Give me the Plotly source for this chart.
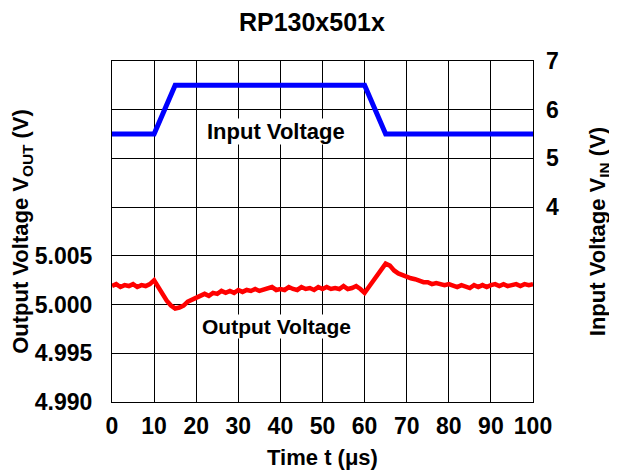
import plotly.graph_objects as go

# ---- data ----
t_out = list(range(0, 101))
v_out = [
    5.0019, 5.0021, 5.0018, 5.0020, 5.0019, 5.0021, 5.0018, 5.0020, 5.0019, 5.0021,
    5.0025, 5.0018, 5.0010, 5.0004, 4.9999, 4.9996, 4.9997, 4.9999, 5.0003, 5.0005,
    5.0008, 5.0009, 5.0011, 5.0009, 5.0012, 5.0011, 5.0014, 5.0012, 5.0014, 5.0012,
    5.0015, 5.0013, 5.0015, 5.0014, 5.0016, 5.0014, 5.0015, 5.0016, 5.0018, 5.0015,
    5.0016, 5.0015, 5.0018, 5.0016, 5.0015, 5.0018, 5.0016, 5.0017, 5.0015, 5.0018,
    5.0016, 5.0018, 5.0016, 5.0017, 5.0016, 5.0019, 5.0016, 5.0017, 5.0019, 5.0016,
    5.0012, 5.0018, 5.0024, 5.0031, 5.0037, 5.0042, 5.0040, 5.0035, 5.0032, 5.0030,
    5.0029, 5.0027, 5.0026, 5.0024, 5.0023, 5.0023, 5.0021, 5.0022, 5.0021, 5.0020,
    5.0021, 5.0019, 5.0018, 5.0020, 5.0019, 5.0017, 5.0020, 5.0018, 5.0020, 5.0018,
    5.0020, 5.0021, 5.0019, 5.0021, 5.0019, 5.0020, 5.0021, 5.0019, 5.0021, 5.0020,
    5.0021,
]
t_in = [0, 10, 15, 60, 65, 100]
v_in = [5.5, 5.5, 6.5, 6.5, 5.5, 5.5]

x_ticks = [0, 10, 20, 30, 40, 50, 60, 70, 80, 90, 100]
y1_ticks = [4.990, 4.995, 5.000, 5.005, 5.010, 5.015, 5.020, 5.025]
y1_labels = ["4.990", "4.995", "5.000", "5.005", "", "", "", ""]
y2_ticks = [4, 5, 6, 7]
y2_labels = ["4", "5", "6", "7"]

FONT = "Liberation Sans, Arial, sans-serif"
BOLD = dict(family=FONT, color="black", size=23, weight="bold")

fig = go.Figure()
fig.add_trace(go.Scatter(x=t_out, y=v_out, mode="lines",
                         line=dict(color="#ff0000", width=4.5), yaxis="y"))
fig.add_trace(go.Scatter(x=t_in, y=v_in, mode="lines",
                         line=dict(color="#0000ff", width=5), yaxis="y2"))

fig.update_layout(
    width=609, height=468,
    margin=dict(l=104, r=84, t=53, b=74, autoexpand=False),
    paper_bgcolor="white", plot_bgcolor="white",
    showlegend=False,
    font=dict(family=FONT, color="black", size=22, weight="bold"),
    title=dict(text="<b>RP130x501x</b>", x=0.499, xanchor="center",
               y=0.970, yanchor="middle", font=dict(size=25)),
    xaxis=dict(range=[0, 100], tickvals=x_ticks, showgrid=True,
               gridcolor="black", gridwidth=1, showline=True, linecolor="black",
               linewidth=1, mirror=True, ticks="", zeroline=False,
               automargin=False, tickfont=BOLD, ticklabelstandoff=3,
               title=dict(text="Time t (μs)", standoff=12,
                          font=dict(size=22, weight="bold"))),
    yaxis=dict(range=[4.990, 5.025], tickvals=y1_ticks, ticktext=y1_labels,
               showgrid=True, gridcolor="black", gridwidth=1, showline=True,
               linecolor="black", linewidth=1, mirror=True, ticks="",
               zeroline=False, automargin=False, tickfont=BOLD,
               ticklabelstandoff=14,
               title=dict(text="Output Voltage V<sub>OUT</sub> (V)", standoff=2,
                          font=dict(size=22, weight="bold"))),
    yaxis2=dict(range=[0, 7], tickvals=y2_ticks, ticktext=y2_labels,
                overlaying="y", side="right", showgrid=False, ticks="",
                zeroline=False, showline=False, automargin=False,
                tickfont=BOLD, ticklabelstandoff=12,
                title=dict(text="Input Voltage V<sub>IN</sub> (V)", standoff=31,
                           font=dict(size=22, weight="bold"))),
    annotations=[
        dict(x=39, y=5.55, xref="x", yref="y2", text="<b>Input Voltage</b>",
             showarrow=False, bgcolor="white", borderpad=0,
             font=dict(size=22)),
        dict(x=39, y=4.9977, xref="x", yref="y", text="<b>Output Voltage</b>",
             showarrow=False, bgcolor="white", borderpad=0,
             font=dict(size=21)),
    ],
)

fig.write_html("out.html")
